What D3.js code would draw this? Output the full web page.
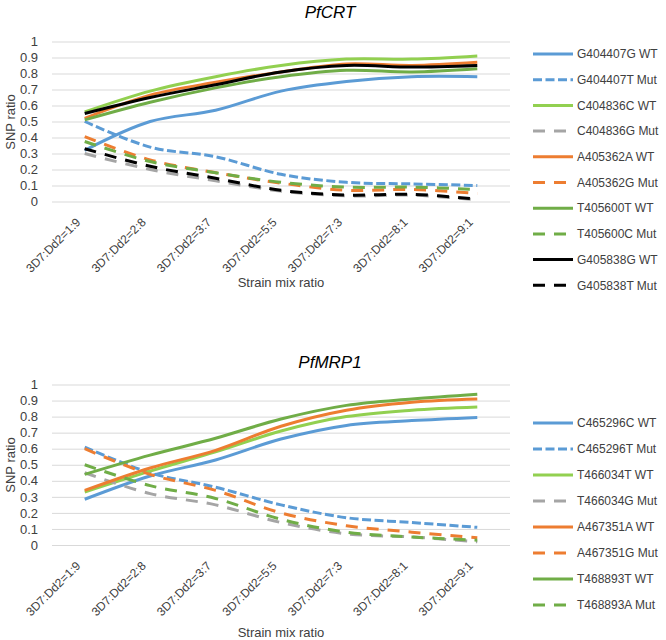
<!DOCTYPE html>
<html>
<head>
<meta charset="utf-8">
<script src="https://cdn.jsdelivr.net/npm/d3@7"></script>
<style>
  body { margin: 0; background: #fff; }
  svg { display: block; }
  text { font-family: "Liberation Sans", Arial, sans-serif; fill: #404040; }
</style>
</head>
<body>
<svg id="chart" width="666" height="640"></svg>
<script>
// ---------- DATA ----------
const categories = ["3D7:Dd2=1:9", "3D7:Dd2=2:8", "3D7:Dd2=3:7", "3D7:Dd2=5:5", "3D7:Dd2=7:3", "3D7:Dd2=8:1", "3D7:Dd2=9:1"];
const yTicks = [0, 0.1, 0.2, 0.3, 0.4, 0.5, 0.6, 0.7, 0.8, 0.9, 1];
const yTickLabels = ["0", "0.1", "0.2", "0.3", "0.4", "0.5", "0.6", "0.7", "0.8", "0.9", "1"];

// PfCRT
const crtNames = ["G404407G WT", "G404407T Mut", "C404836C WT", "C404836G Mut", "A405362A WT", "A405362G Mut", "T405600T WT", "T405600C Mut", "G405838G WT", "G405838T Mut"];
const crt_G404407G_WT  = [0.32, 0.50, 0.57, 0.69, 0.75, 0.78, 0.78];
const crt_G404407T_Mut = [0.50, 0.34, 0.28, 0.17, 0.12, 0.11, 0.10];
const crt_C404836C_WT  = [0.56, 0.69, 0.78, 0.85, 0.89, 0.89, 0.91];
const crt_C404836G_Mut = [0.30, 0.20, 0.13, 0.065, 0.035, 0.04, 0.01];
const crt_A405362A_WT  = [0.52, 0.665, 0.745, 0.81, 0.86, 0.85, 0.87];
const crt_A405362G_Mut = [0.405, 0.26, 0.18, 0.115, 0.07, 0.075, 0.05];
const crt_T405600T_WT  = [0.51, 0.62, 0.71, 0.78, 0.82, 0.81, 0.83];
const crt_T405600C_Mut = [0.375, 0.25, 0.18, 0.12, 0.09, 0.09, 0.075];
const crt_G405838G_WT  = [0.55, 0.65, 0.73, 0.81, 0.85, 0.84, 0.85];
const crt_G405838T_Mut = [0.33, 0.22, 0.145, 0.07, 0.04, 0.045, 0.015];

// PfMRP1
const mrpNames = ["C465296C WT", "C465296T Mut", "T466034T WT", "T466034G Mut", "A467351A WT", "A467351G Mut", "T468893T WT", "T468893A Mut"];
const mrp_C465296C_WT  = [0.285, 0.43, 0.53, 0.66, 0.745, 0.775, 0.795];
const mrp_C465296T_Mut = [0.61, 0.45, 0.36, 0.25, 0.17, 0.14, 0.11];
const mrp_T466034T_WT  = [0.33, 0.46, 0.58, 0.71, 0.80, 0.84, 0.86];
const mrp_T466034G_Mut = [0.45, 0.32, 0.25, 0.14, 0.07, 0.05, 0.02];
const mrp_A467351A_WT  = [0.34, 0.48, 0.59, 0.74, 0.84, 0.89, 0.91];
const mrp_A467351G_Mut = [0.60, 0.44, 0.34, 0.20, 0.12, 0.08, 0.045];
const mrp_T468893T_WT  = [0.44, 0.56, 0.665, 0.785, 0.87, 0.91, 0.94];
const mrp_T468893A_Mut = [0.50, 0.37, 0.29, 0.16, 0.08, 0.05, 0.03];

// ---------- STYLES ----------
const C = { blue: "#5B9BD5", lgreen: "#92D050", grey: "#A5A5A5", orange: "#ED7D31", green: "#70AD47", black: "#000000" };
const SOLID = null, SYSDASH = "9,3.5", DASH = "12,9";

const crtSeries = [
  { name: crtNames[0], values: crt_G404407G_WT,  color: C.blue,   dash: SOLID },
  { name: crtNames[1], values: crt_G404407T_Mut, color: C.blue,   dash: SYSDASH },
  { name: crtNames[2], values: crt_C404836C_WT,  color: C.lgreen, dash: SOLID },
  { name: crtNames[3], values: crt_C404836G_Mut, color: C.grey,   dash: DASH },
  { name: crtNames[4], values: crt_A405362A_WT,  color: C.orange, dash: SOLID },
  { name: crtNames[5], values: crt_A405362G_Mut, color: C.orange, dash: DASH },
  { name: crtNames[6], values: crt_T405600T_WT,  color: C.green,  dash: SOLID },
  { name: crtNames[7], values: crt_T405600C_Mut, color: C.green,  dash: DASH },
  { name: crtNames[8], values: crt_G405838G_WT,  color: C.black,  dash: SOLID },
  { name: crtNames[9], values: crt_G405838T_Mut, color: C.black,  dash: DASH }
];
const mrpSeries = [
  { name: mrpNames[0], values: mrp_C465296C_WT,  color: C.blue,   dash: SOLID },
  { name: mrpNames[1], values: mrp_C465296T_Mut, color: C.blue,   dash: SYSDASH },
  { name: mrpNames[2], values: mrp_T466034T_WT,  color: C.lgreen, dash: SOLID },
  { name: mrpNames[3], values: mrp_T466034G_Mut, color: C.grey,   dash: DASH },
  { name: mrpNames[4], values: mrp_A467351A_WT,  color: C.orange, dash: SOLID },
  { name: mrpNames[5], values: mrp_A467351G_Mut, color: C.orange, dash: DASH },
  { name: mrpNames[6], values: mrp_T468893T_WT,  color: C.green,  dash: SOLID },
  { name: mrpNames[7], values: mrp_T468893A_Mut, color: C.green,  dash: DASH }
];

const svg = d3.select("#chart");

function drawChart(cfg) {
  const g = svg.append("g");
  const x = d3.scalePoint().domain(categories).range([52, 510]).padding(0.5);
  const y = d3.scaleLinear().domain([0, 1]).range([cfg.y0, cfg.y1]);

  // title
  g.append("text").attr("x", 330).attr("y", cfg.titleY)
    .attr("text-anchor", "middle").style("font-size", "17px").style("font-style", "italic")
    .style("fill", "#000").text(cfg.title);

  // y axis with gridlines
  const ya = g.append("g").attr("transform", "translate(52,0)")
    .call(d3.axisLeft(y).tickValues(yTicks).tickFormat((d, i) => yTickLabels[i]).tickSize(-(510 - 52)).tickPadding(14));
  ya.select(".domain").remove();
  ya.selectAll(".tick line").attr("stroke", "#D9D9D9").attr("stroke-width", 1);
  ya.selectAll(".tick text").style("font-size", "13px").style("fill", "#404040").attr("font-family", null);

  // x axis labels
  const xa = g.append("g").attr("transform", `translate(0,${cfg.y0})`)
    .call(d3.axisBottom(x).tickSize(0).tickPadding(0));
  xa.select(".domain").remove();
  xa.selectAll(".tick text")
    .attr("font-family", null)
    .style("font-size", "12px").style("fill", "#404040")
    .attr("text-anchor", "end")
    .attr("dy", null).attr("y", 0)
    .attr("transform", "translate(-4,21.5) rotate(-45)");

  // axis titles
  g.append("text").attr("x", 281).attr("y", cfg.xTitleY).attr("text-anchor", "middle")
    .style("font-size", "13px").text("Strain mix ratio");
  g.append("text").attr("transform", `translate(15,${cfg.yTitleY}) rotate(-90)`).attr("text-anchor", "middle")
    .style("font-size", "13px").text("SNP ratio");

  // lines
  const line = d3.line()
    .x((d, i) => x(categories[i]))
    .y(d => y(d))
    .curve(d3.curveCatmullRom.alpha(0.5));
  cfg.series.forEach(s => {
    g.append("path").datum(s.values)
      .attr("d", line).attr("fill", "none")
      .attr("stroke", s.color).attr("stroke-width", 3)
      .attr("stroke-dasharray", s.dash);
  });

  // legend
  const lg = g.append("g");
  cfg.series.forEach((s, i) => {
    const yy = cfg.legY + i * cfg.legStep;
    lg.append("line").attr("x1", 533).attr("x2", 573).attr("y1", yy).attr("y2", yy)
      .attr("stroke", s.color).attr("stroke-width", 3).attr("stroke-dasharray", s.dash);
    lg.append("text").attr("x", 577).attr("y", yy).attr("dy", "0.35em")
      .style("font-size", "12px").text(s.name);
  });
}

drawChart({ title: "PfCRT", titleY: 18, y0: 201.5, y1: 41.5, xTitleY: 287, yTitleY: 122,
  series: crtSeries, legY: 54, legStep: 25.7 });
drawChart({ title: "PfMRP1", titleY: 368, y0: 545, y1: 384.5, xTitleY: 637, yTitleY: 465,
  series: mrpSeries, legY: 423, legStep: 26 });
</script>
</body>
</html>
